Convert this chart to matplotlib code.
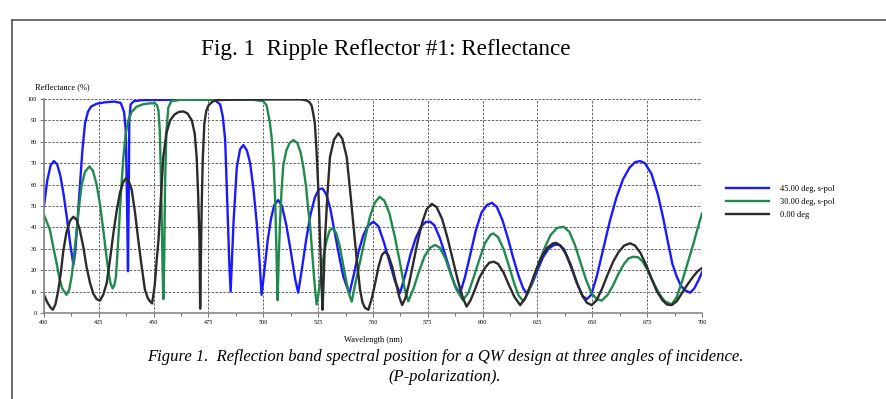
import numpy as np
import matplotlib.pyplot as plt
from matplotlib.lines import Line2D

# wavelength (nm) / reflectance (%)
wl_45 = [400, 401.5, 403, 404.5, 406, 407.5, 409, 410.5, 412, 413.4, 414.2, 415.2, 416.4, 417.5, 418.7,
         420, 421.5, 424, 428, 432, 435, 436.5, 437.3, 437.8, 438.3, 438.6, 438.9, 439.5, 441, 445,
         460, 475, 478, 480.3, 481.5, 482.6, 483.6, 484.5, 485.1, 486.4, 487.9, 489.4, 490.9, 492.5,
         494, 495.5, 497, 498.3, 499.2, 500.5, 502, 503.5, 505, 506.8, 508.5, 510.5, 512.5, 514.5,
         515.9, 517.5, 519.5, 521.5, 523.5, 525.3, 527, 528.7, 530.5, 532.5, 534.5, 536.5, 539.2,
         541.5, 543.5, 545.5, 547.5, 550.2, 552.5, 555, 557.5, 560, 562.3, 564.5, 567, 569.5, 572,
         574, 576, 578, 580.5, 583, 585.5, 587.5, 589.7, 592, 594.5, 597, 599.5, 602, 604.2, 606.5,
         609, 611.5, 614, 616.5, 618.5, 620.1, 622.5, 625, 627.5, 630, 632.5, 634.6, 637, 640, 643,
         645.5, 647.5, 649.5, 652, 655, 658, 661, 664, 667, 669.5, 671.8, 674, 677, 680, 682.4,
         684.5, 686.5, 688.5, 690.5, 692.5, 694.6, 696.5, 698.5, 700]
r_45 = [50, 62, 69, 71, 69.5, 64, 55, 44, 32, 22.5, 28, 42, 60, 76, 88.5,
        94, 96.5, 97.8, 98.5, 98.8, 98.2, 94, 85, 55, 19.5, 50, 90, 97.5, 99, 99.5,
        99.7, 99.7, 99.5, 97.5, 92, 81, 50, 23, 10, 42, 68, 76.5, 78.5, 76,
        70, 58, 42, 24, 8.5, 20, 34, 44, 50.5, 52.8, 50, 41, 29, 16,
        9.5, 20, 34, 46, 54, 57.8, 58.2, 55.5, 49, 38, 27, 17, 9,
        19, 29, 36, 40.5, 42.7, 40.5, 33, 24, 15, 9.2, 17, 27, 35, 40.5,
        42.5, 42.7, 41, 35, 27, 18.5, 12.5, 9.2, 17, 28, 39, 47, 50.5, 51.5, 49.5,
        43.5, 35, 25.5, 17, 11.5, 9.2, 13.5, 20, 26, 30, 31.8, 32, 30, 23, 14,
        8, 6.5, 8.5, 17, 30, 43, 54, 62.5, 68, 70.5, 71, 70, 65, 55, 44,
        33, 23, 17, 12.5, 10.5, 9.5, 11.5, 15.5, 19]

wl_30 = [400, 401.5, 402.7, 404.2, 405.8, 407, 408.3, 410.3, 411.5, 412.6, 413.8, 414.9, 416, 417.2,
         418.7, 420.7, 422.3, 424, 425.5, 427, 428.3, 429.3, 430.3, 431.3, 432.1, 432.8, 433.5, 434.3,
         435.2, 436.2, 437.3, 438.4, 440, 442.2, 445, 448.3, 450.6, 451.6, 452.2, 452.8, 453.4, 454,
         454.4, 454.8, 455.2, 455.8, 456.7, 458, 462, 480, 495, 500, 501.5, 503, 504, 504.8, 505.5,
         506, 506.5, 507, 507.6, 508.3, 509.1, 510.5, 512, 513.7, 515.5, 517, 518.2, 519.5, 520.5,
         521.3, 522.3, 523.1, 523.8, 524.3, 525, 525.8, 526.6, 527.7, 528.9, 530.2, 531.6, 533.2,
         534.9, 536.5, 538, 539.2, 540.3, 542, 544, 546, 548.6, 550.8, 553, 555.2, 557.5, 560, 562.5,
         564.5, 566.1, 568.5, 571, 573.5, 576, 578.3, 580.5, 583, 585.5, 588, 591, 593.5, 596, 598.5,
         601, 603.5, 604.8, 607, 609.5, 612, 614.5, 616.5, 618.6, 621, 623.5, 626, 628.5, 631, 634,
         636.9, 639.5, 642, 644.5, 647, 649.5, 652, 654.3, 657, 659.5, 662, 664.5, 666.5, 668.7, 671,
         673, 675.5, 678, 680.5, 683, 686.2, 688.5, 691, 693.5, 696, 698, 700]
r_30 = [45.8, 42, 38.8, 31, 23, 16.5, 11.5, 8.5, 11, 17, 28, 39, 50, 60,
        66, 68.5, 66.5, 60, 51, 39, 28, 20, 14, 11.5, 13, 17, 28, 42,
        58, 73, 84, 90, 94, 96.4, 97.5, 98, 98, 97, 94.5, 85, 60, 25,
        6.5, 25, 60, 85, 96, 99, 99.6, 99.7, 99.7, 99, 97, 89, 80, 68, 50,
        28, 6, 25, 42, 57, 69, 76, 79.5, 80.8, 79.5, 75, 68.5, 59, 48,
        41.5, 28, 17, 9, 4, 8, 14, 20, 28, 34, 38.5, 39.6, 37.5,
        31, 22, 14, 8.5, 5.3, 14, 23.5, 33, 45, 51.5, 54.3, 52.5, 46.5, 35.5, 22.5,
        11, 5.5, 11.5, 19.5, 26.5, 30.5, 31.8, 30.5, 25.5, 18, 11, 6, 9.5, 17, 25,
        32.5, 36.5, 37.2, 35.5, 30, 22, 13.5, 8, 5.5, 10, 17, 24.5, 31, 36.5, 39.8,
        40.3, 38, 32, 24, 16, 9.5, 6.5, 5.8, 8.5, 13, 18.5, 23, 25.5, 26.3, 26,
        24, 19.5, 14, 9, 5.5, 4, 7.5, 15, 23.5, 32, 39.5, 46.5]

wl_0 = [400, 401.5, 403, 404, 405.2, 406.5, 407.7, 408.8, 410.2, 411.8, 413.4, 414.9, 416.4, 418,
        419.4, 421, 422.5, 424, 425.5, 427, 428.6, 430.1, 431.6, 433.1, 434.6, 436, 437.4, 438.7,
        440, 441.5, 443, 444.5, 446, 447.3, 448.3, 449.3, 450.5, 451.4, 452.2, 453.3, 454.4, 455.8,
        457.5, 459.5, 461.5, 463.6, 465.5, 467.4, 468.7, 469.6, 470.3, 470.9, 471.2, 471.6, 471.9,
        472.4, 473.1, 474, 475, 476.8, 478.8, 490, 517, 519.7, 521, 522, 522.8, 523.5, 524.3, 525.1,
        525.6, 526.1, 526.6, 527, 527.5, 528.1, 529.2, 530.4, 532.2, 534.2, 536, 538, 539.5, 541,
        542.5, 544.1, 545.2, 546.3, 547.9, 549.5, 551, 552.5, 554, 555.5, 557, 558.8, 560.5, 562,
        563.3, 564.8, 566.5, 568.5, 570.5, 572.5, 574.5, 576.8, 579, 581.5, 584, 586.5, 589, 591,
        592.7, 594.5, 596.5, 598.5, 601, 603, 605, 607, 609.5, 612, 614.5, 617.1, 619.5, 622, 624.5,
        627, 629.5, 632, 633.5, 635.5, 638, 640.5, 643, 645.5, 647.5, 649.7, 652, 654.5, 657, 659.5,
        662, 664.5, 667.2, 669.5, 672, 674.5, 677, 679.5, 682, 684, 686.2, 688.5, 691, 693.5, 696,
        698, 700]
r_0 = [8.5, 5, 2.5, 1.5, 4, 10.5, 19, 29, 37.5, 43, 45, 43.5, 38.5, 30.5,
       21.5, 14, 9, 6.5, 5.8, 8.5, 14, 25, 37, 47.5, 56, 61, 63, 61.5,
       57.5, 47, 34, 22, 11, 7, 5.5, 4.5, 13, 25, 34, 54, 73, 84,
       90, 92.8, 94, 94.2, 93.2, 90, 84, 73, 55, 34, 2, 30, 50,
       72, 88.5, 94.5, 97, 98.8, 99.5, 99.8, 99.8, 99.4, 98.5, 97, 93, 88.5, 75, 57.5,
       42, 26, 12, 1.5, 15, 34, 55, 73, 81, 84, 81.5, 73, 58, 42,
       26, 11, 5, 2.5, 1.5, 7, 14, 21.5, 27, 28.7, 27, 21.5, 14, 7.5,
       3.7, 7, 14, 24, 34, 42.5, 48.5, 51, 49.5, 44, 35, 24.5, 14, 7,
       3, 6, 11, 16.5, 21, 23.5, 24, 23, 19, 13, 7.5, 3.7, 7, 13.5, 20.5,
       26.5, 30.5, 32.5, 32.8, 31.5, 27.5, 21, 14, 8, 4.8, 3.7, 6, 11.5, 18, 24,
       28.5, 31.5, 32.6, 31.5, 28, 22.5, 16, 10, 6, 4, 3.7, 5.5, 9.5, 13.5, 17,
       19.5, 21]

labels = ['45.00 deg, s-pol', '30.00 deg, s-pol', '0.00 deg']
colors = ['#1a1aff', '#1f8a4c', '#2b2b2b']
x_ticks = list(range(400, 701, 25))
y_ticks = list(range(0, 101, 10))

serif = ['Liberation Serif', 'DejaVu Serif']
plt.rcParams['font.family'] = serif

fig = plt.figure(figsize=(8.87, 3.99), dpi=100)
ax = fig.add_axes([0.0496, 0.2155, 0.7418, 0.5363])

for wl, r, lab, c in zip([wl_45, wl_30, wl_0], [r_45, r_30, r_0], labels, colors):
    ax.plot(wl, r, color=c, lw=1.7, label=lab, solid_joinstyle='round')

ax.set_xlim(400, 700)
ax.set_ylim(0, 100)
ax.set_xticks(x_ticks)
ax.set_xticks(np.arange(400, 701, 12.5), minor=True)
ax.set_yticks(y_ticks)
ax.tick_params(labelsize=4.5, length=3, width=0.8, color='#777', pad=2)
ax.tick_params(which='minor', length=2, width=0.8, color='#777')
ax.grid(True, color='#666', lw=0.7, linestyle=(0, (2.5, 1.5)))
for s in ['top', 'right']:
    ax.spines[s].set_visible(False)
for s in ['left', 'bottom']:
    ax.spines[s].set_color('#888')
    ax.spines[s].set_linewidth(1.2)

fig.text(35 / 887, 1 - 87 / 399, 'Reflectance (%)', fontsize=6, va='center', ha='left')
fig.text(373 / 887, 1 - 340 / 399, 'Wavelength (nm)', fontsize=6, va='center', ha='center')
fig.text(386 / 887, 1 - 50 / 399, 'Fig. 1  Ripple Reflector #1: Reflectance', fontsize=16.7,
         va='center', ha='center')
fig.text(445 / 887, 1 - 357 / 399,
         'Figure 1.  Reflection band spectral position for a QW design at three angles of incidence.',
         fontsize=12, style='italic', va='center', ha='center')
fig.text(445 / 887, 1 - 377 / 399, '(P-polarization).', fontsize=12, style='italic',
         va='center', ha='center')

fig.legend(loc='upper left', bbox_to_anchor=(722 / 887, 1 - 181 / 399), frameon=False,
           fontsize=6, handlelength=5.2, labelspacing=0.6, handletextpad=1.3, borderpad=0)

# page frame
fig.add_artist(Line2D([12 / 887, 12 / 887], [0, 1 - 20 / 399], color='#555', lw=1.2,
                      transform=fig.transFigure))
fig.add_artist(Line2D([12 / 887, 1], [1 - 20 / 399, 1 - 20 / 399], color='#555', lw=1.2,
                      transform=fig.transFigure))

fig.savefig('out.png', dpi=100)
